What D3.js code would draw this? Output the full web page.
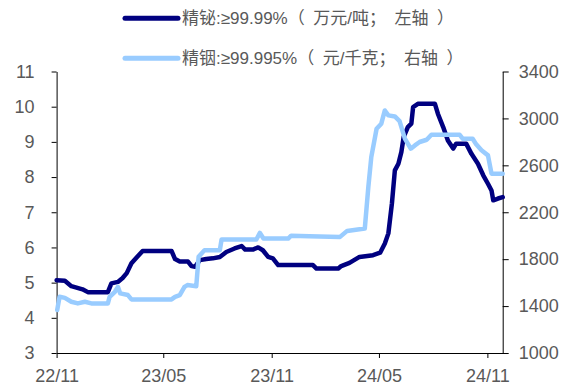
<!DOCTYPE html>
<html>
<head>
<meta charset="utf-8">
<script src="https://cdn.jsdelivr.net/npm/d3@7"></script>
<style>
  html, body { margin: 0; padding: 0; background: #fff; }
  svg { display: block; font-family: "Liberation Sans", Arial, "Noto Sans CJK SC", sans-serif; }
</style>
</head>
<body>
<svg id="chart" width="564" height="390"></svg>
<script>
// Refined bismuth (>=99.99%), 10k yuan / tonne, left axis
const biDates = ["2022-11-01","2022-11-15","2022-11-26","2022-12-15","2022-12-24","2023-01-27","2023-02-02","2023-02-13","2023-02-21","2023-02-28","2023-03-08","2023-03-16","2023-03-27","2023-05-15","2023-05-21","2023-05-29","2023-06-12","2023-06-18","2023-06-24","2023-07-02","2023-07-13","2023-07-24","2023-08-05","2023-08-16","2023-08-30","2023-09-11","2023-09-17","2023-09-30","2023-10-09","2023-10-17","2023-10-26","2023-11-03","2023-11-12","2024-01-10","2024-01-16","2024-02-22","2024-02-27","2024-03-12","2024-03-29","2024-04-21","2024-05-03","2024-05-11","2024-05-17","2024-05-23","2024-05-28","2024-06-03","2024-06-08","2024-06-12","2024-06-19","2024-06-25","2024-06-28","2024-07-06","2024-08-04","2024-08-09","2024-08-18","2024-08-26","2024-09-04","2024-09-09","2024-09-26","2024-10-05","2024-10-16","2024-10-25","2024-11-02","2024-11-08","2024-11-11","2024-11-19","2024-11-27"];
const biValues = [5.07,5.05,4.90,4.81,4.73,4.73,4.98,5.02,5.13,5.27,5.55,5.70,5.90,5.90,5.67,5.60,5.60,5.47,5.45,5.64,5.67,5.69,5.73,5.87,5.97,6.04,5.94,5.94,6.00,5.92,5.73,5.69,5.50,5.50,5.40,5.40,5.47,5.56,5.73,5.78,5.85,6.11,6.40,7.25,8.19,8.38,8.71,9.14,9.42,9.52,9.99,10.08,10.08,9.80,9.42,9.04,8.81,8.95,8.95,8.66,8.38,8.05,7.81,7.62,7.34,7.39,7.43];

// Refined indium (>=99.995%), yuan / kg, right axis
const inDates = ["2022-11-02","2022-11-06","2022-11-15","2022-11-26","2022-12-07","2022-12-19","2022-12-30","2023-01-27","2023-01-30","2023-02-08","2023-02-13","2023-02-17","2023-03-02","2023-03-08","2023-05-15","2023-05-21","2023-05-29","2023-06-06","2023-06-11","2023-06-26","2023-06-30","2023-07-10","2023-08-05","2023-08-08","2023-10-06","2023-10-12","2023-10-18","2023-11-29","2023-12-04","2024-01-04","2024-02-25","2024-03-08","2024-04-07","2024-04-13","2024-04-18","2024-04-27","2024-05-05","2024-05-11","2024-05-17","2024-05-28","2024-06-05","2024-06-14","2024-06-24","2024-07-01","2024-07-09","2024-07-21","2024-07-29","2024-09-15","2024-09-20","2024-10-07","2024-10-13","2024-10-22","2024-11-02","2024-11-08","2024-11-27"];
const inValues = [1366,1479,1470,1437,1423,1437,1423,1423,1479,1522,1564,1508,1494,1457,1457,1479,1494,1564,1579,1570,1820,1877,1877,1968,1968,2024,1976,1976,2000,1996,1990,2041,2061,2415,2670,2912,2955,3068,3026,3017,2977,2827,2742,2770,2799,2818,2861,2861,2827,2827,2779,2728,2685,2529,2529];

const leftTicks = [3, 4, 5, 6, 7, 8, 9, 10, 11];
const rightTicks = [1000, 1400, 1800, 2200, 2600, 3000, 3400];
const xTicks = ["2022-11-01", "2023-05-01", "2023-11-01", "2024-05-01", "2024-11-01"];
const xStart = "2022-11-01";
const xEnd = "2024-11-27";

// legend labels, split at the full-width punctuation so each mark keeps a full em
const legendParts = [
  ["精铋:≥99.99%", "（", "万元/吨", "；", "左轴", "）"],
  ["精铟:≥99.995%", "（", "元/千克", "；", "右轴", "）"]
];
const colors = ["#000080", "#99CCFF"];

const parse = d3.utcParse("%Y-%m-%d");
const svg = d3.select("#chart");

const plot = { left: 56.6, right: 502.7, top: 71.5, bottom: 353 };

const x = d3.scaleUtc().domain([parse(xStart), parse(xEnd)]).range([plot.left, plot.right]);
const yL = d3.scaleLinear().domain([3, 11]).range([plot.bottom, plot.top]);
const yR = d3.scaleLinear().domain([1000, 3400]).range([plot.bottom, plot.top]);

const textColor = "#595959";
const axisColor = "#000";
const axisFontSize = 18;
const legendFontSize = 17;

function styleAxis(g) {
  g.select(".domain").attr("stroke", axisColor).attr("stroke-width", 1);
  g.selectAll(".tick line").attr("stroke", axisColor).attr("stroke-width", 1);
  g.selectAll(".tick text")
    .attr("fill", textColor)
    .style("font-size", axisFontSize + "px")
    .style("font-family", '"Liberation Sans", Arial, sans-serif');
}

// left axis
svg.append("g")
  .attr("transform", `translate(${plot.left},0)`)
  .call(d3.axisLeft(yL).tickValues(leftTicks).tickFormat(d3.format("d")).tickSize(5).tickSizeOuter(0).tickPadding(17))
  .call(styleAxis);

// right axis
svg.append("g")
  .attr("transform", `translate(${plot.right},0)`)
  .call(d3.axisRight(yR).tickValues(rightTicks).tickFormat(d3.format("d")).tickSize(6).tickSizeOuter(0).tickPadding(10))
  .call(styleAxis);

// bottom axis
const fmt = d3.utcFormat("%y/%m");
svg.append("g")
  .attr("transform", `translate(0,${plot.bottom})`)
  .call(d3.axisBottom(x).tickValues(xTicks.map(parse)).tickFormat(fmt).tickSize(5).tickSizeOuter(0).tickPadding(11))
  .call(styleAxis);

// series lines
const biData = biDates.map((d, i) => ({ date: parse(d), value: biValues[i] }));
const inData = inDates.map((d, i) => ({ date: parse(d), value: inValues[i] }));

const lineL = d3.line().x(d => x(d.date)).y(d => yL(d.value));
const lineR = d3.line().x(d => x(d.date)).y(d => yR(d.value));

svg.append("path")
  .datum(biData)
  .attr("d", lineL)
  .attr("fill", "none")
  .attr("stroke", colors[0])
  .attr("stroke-width", 4.5)
  .attr("stroke-linejoin", "round")
  .attr("stroke-linecap", "round");

svg.append("path")
  .datum(inData)
  .attr("d", lineR)
  .attr("fill", "none")
  .attr("stroke", colors[1])
  .attr("stroke-width", 4.5)
  .attr("stroke-linejoin", "round")
  .attr("stroke-linecap", "round");

// legend
const legend = svg.append("g");
const legendY = [18.3, 58.3];
legendParts.forEach((parts, i) => {
  legend.append("line")
    .attr("x1", 125).attr("x2", 178)
    .attr("y1", legendY[i]).attr("y2", legendY[i])
    .attr("stroke", colors[i])
    .attr("stroke-width", 5)
    .attr("stroke-linecap", "round");
  const t = legend.append("text")
    .attr("x", 182)
    .attr("y", legendY[i])
    .attr("dy", "0.35em")
    .attr("fill", textColor)
    .style("font-size", legendFontSize + "px");
  // full-width brackets/semicolon: space after an opening mark, after the
  // semicolon and before the closing mark, as in a full-em CJK layout
  const pad = legendFontSize / 2;
  parts.forEach((p, j) => {
    const ts = t.append("tspan").text(p);
    if (j === 2 || j === 4 || j === 5) ts.attr("dx", pad);
  });
});
</script>
</body>
</html>
